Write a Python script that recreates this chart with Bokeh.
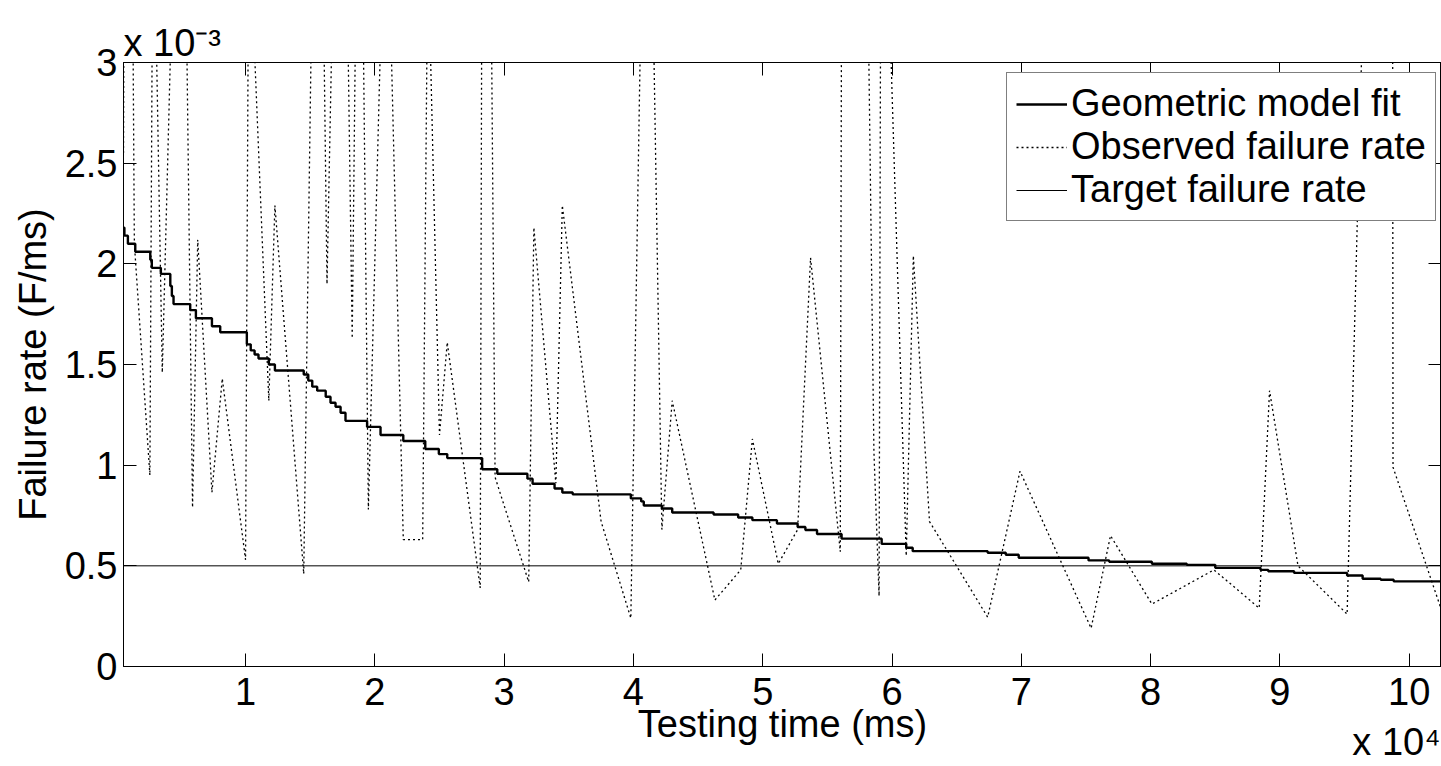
from bokeh.plotting import figure
from bokeh.models import (Range1d, FixedTicker, LinearAxis, CustomJSTickFormatter,
                          Legend, LegendItem, Title)
from bokeh.embed import file_html
from bokeh.resources import INLINE

# ---- data (x in units of 1e4 ms, y in units of 1e-3 F/ms) ----
obs_x = [0.056, 0.08, 0.14, 0.26, 0.285, 0.356, 0.505, 0.59, 0.63, 0.74, 0.82, 1.0,
         1.025, 1.18, 1.227, 1.45, 1.56, 1.63, 1.74, 1.825, 1.88, 1.95, 2.086, 2.22,
         2.37, 2.41, 2.50, 2.56, 2.815, 2.845, 2.93, 3.19, 3.23, 3.40, 3.45, 3.75,
         3.98, 4.105, 4.22, 4.30, 4.63, 4.83, 4.92, 5.12, 5.27, 5.37, 5.60, 5.64,
         5.86, 5.90, 5.917, 6.11, 6.165, 6.29, 6.74, 6.99, 7.54, 7.69, 8.01, 8.49,
         8.84, 8.92, 9.14, 9.52, 9.865, 9.875, 10.25]
obs_y = [2.55, 8.0, 2.1, 0.95, 4.0, 1.46, 5.2, 0.79, 2.12, 0.865, 1.43, 0.53,
         3.75, 1.32, 2.29, 0.46, 5.5, 1.90, 5.5, 1.63, 5.0, 0.78, 4.14, 0.63,
         0.63, 3.6, 1.15, 1.61, 0.39, 7.7, 0.94, 0.42, 2.18, 0.91, 2.29, 0.72,
         0.24, 5.1, 0.68, 1.32, 0.33, 0.48, 1.13, 0.51, 0.68, 2.03, 0.57, 12.0,
         1.07, 0.35, 4.6, 0.55, 2.04, 0.72, 0.245, 0.97, 0.19, 0.65, 0.31, 0.48,
         0.29, 1.37, 0.50, 0.26, 8.8, 0.99, 0.28]

fit_x = [0.056, 0.063, 0.09, 0.147, 0.263, 0.275, 0.345, 0.418, 0.43, 0.443, 0.572,
         0.616, 0.74, 0.804, 1.01, 1.04, 1.07, 1.10, 1.18, 1.227, 1.45, 1.485, 1.516,
         1.554, 1.62, 1.657, 1.696, 1.735, 1.773, 1.94, 2.044, 2.22, 2.39, 2.495,
         2.56, 2.83, 2.947, 3.18, 3.22, 3.39, 3.45, 3.53, 3.98, 4.06, 4.08, 4.22,
         4.30, 4.62, 4.81, 4.92, 5.11, 5.27, 5.33, 5.42, 5.61, 5.92, 6.11, 6.16,
         6.74, 6.88, 6.98, 7.52, 7.68, 8.01, 8.28, 8.50, 8.85, 8.91, 9.11, 9.52,
         9.64, 9.78, 9.88, 10.25]
fit_y = [2.18, 2.14, 2.10, 2.06, 2.02, 1.98, 1.95, 1.89, 1.84, 1.80, 1.77,
         1.73, 1.69, 1.66, 1.60, 1.57, 1.55, 1.53, 1.50, 1.47, 1.45, 1.42, 1.39,
         1.37, 1.34, 1.31, 1.29, 1.26, 1.22, 1.19, 1.15, 1.12, 1.08, 1.055,
         1.035, 0.98, 0.957, 0.933, 0.908, 0.884, 0.864, 0.855, 0.835, 0.82, 0.80, 0.785,
         0.765, 0.755, 0.74, 0.727, 0.71, 0.693, 0.678, 0.658, 0.635, 0.609, 0.59, 0.573,
         0.565, 0.555, 0.540, 0.527, 0.520, 0.510, 0.505, 0.490, 0.480, 0.473, 0.465, 0.452,
         0.436, 0.431, 0.423, 0.423]

target_rate = 0.5
x_ticks = [1, 2, 3, 4, 5, 6, 7, 8, 9, 10]
y_ticks = [0, 0.5, 1, 1.5, 2, 2.5, 3]
x_multiplier = "x 10\u2074"
y_multiplier = "x 10\u207b\u00b3"

FONT = "Liberation Sans"
TICK_FS = "38px"

p = figure(width=1441, height=766, output_backend="svg", toolbar_location=None,
           x_range=Range1d(obs_x[0], obs_x[-1]), y_range=Range1d(y_ticks[0], y_ticks[-1]),
           min_border_left=123, min_border_right=0, min_border_top=62, min_border_bottom=100,
           background_fill_color="white", border_fill_color="white")
p.grid.visible = False
p.outline_line_color = "black"
p.outline_line_width = 1

num_fmt = CustomJSTickFormatter(code="return tick.toString();")
blank_fmt = CustomJSTickFormatter(code="return '';")

def style_axis(ax, ticks, fmt, show_labels):
    ax.ticker = FixedTicker(ticks=ticks)
    ax.formatter = fmt
    ax.major_tick_in = 13
    ax.major_tick_out = 0
    ax.minor_tick_line_color = None
    ax.axis_line_color = "black"
    ax.major_tick_line_color = "black"
    ax.major_label_text_font = FONT
    ax.major_label_text_color = "black"
    ax.major_label_text_font_size = TICK_FS if show_labels else "1px"
    ax.major_label_standoff = 0

xa = p.xaxis[0]
style_axis(xa, x_ticks, num_fmt, True)
xa.major_label_standoff = 11
xa.axis_label = "Testing time (ms)"
xa.axis_label_text_font = FONT
xa.axis_label_text_font_size = "38px"
xa.axis_label_text_font_style = "normal"
xa.axis_label_text_color = "black"
xa.axis_label_standoff = -5

ya = p.yaxis[0]
style_axis(ya, y_ticks, num_fmt, True)
ya.major_label_standoff = 6
ya.axis_label = "Failure rate (F/ms)"
ya.axis_label_text_font = FONT
ya.axis_label_text_font_size = "38px"
ya.axis_label_text_font_style = "normal"
ya.axis_label_text_color = "black"
ya.axis_label_standoff = 8

top_ax = LinearAxis()
style_axis(top_ax, x_ticks, blank_fmt, False)
p.add_layout(top_ax, "above")
right_ax = LinearAxis()
style_axis(right_ax, y_ticks, blank_fmt, False)
p.add_layout(right_ax, "right")

# exponent multipliers (MATLAB style)
t_top = Title(text=y_multiplier, align="left", offset=0, standoff=-2, vertical_align="bottom",
              text_font=FONT, text_font_size="38px", text_font_style="normal", text_color="black")
p.add_layout(t_top, "above")
t_bot = Title(text=x_multiplier, align="right", offset=1, standoff=-54, vertical_align="top",
              text_font=FONT, text_font_size="38px", text_font_style="normal", text_color="black")
p.add_layout(t_bot, "below")

r_fit = p.step(fit_x, fit_y, mode="after", line_color="black", line_width=2.4)
r_obs = p.line(obs_x, obs_y, line_color="black", line_width=1.3, line_dash="2 3")
r_tgt = p.line([obs_x[0], obs_x[-1]], [target_rate, target_rate], line_color="black", line_width=1)

legend = Legend(items=[LegendItem(label="Geometric model fit", renderers=[r_fit]),
                       LegendItem(label="Observed failure rate", renderers=[r_obs]),
                       LegendItem(label="Target failure rate", renderers=[r_tgt])],
                location=(883, 445))
legend.label_text_font = FONT
legend.label_text_font_size = "38px"
legend.label_text_color = "black"
legend.glyph_width = 51
legend.glyph_height = 40
legend.label_height = 40
legend.label_standoff = 4
legend.spacing = 0
legend.padding = 9
legend.margin = 0
legend.border_line_color = "black"
legend.border_line_width = 1
legend.background_fill_color = "white"
legend.background_fill_alpha = 1
p.add_layout(legend, "center")

open("out.html", "w").write(file_html(p, INLINE))
